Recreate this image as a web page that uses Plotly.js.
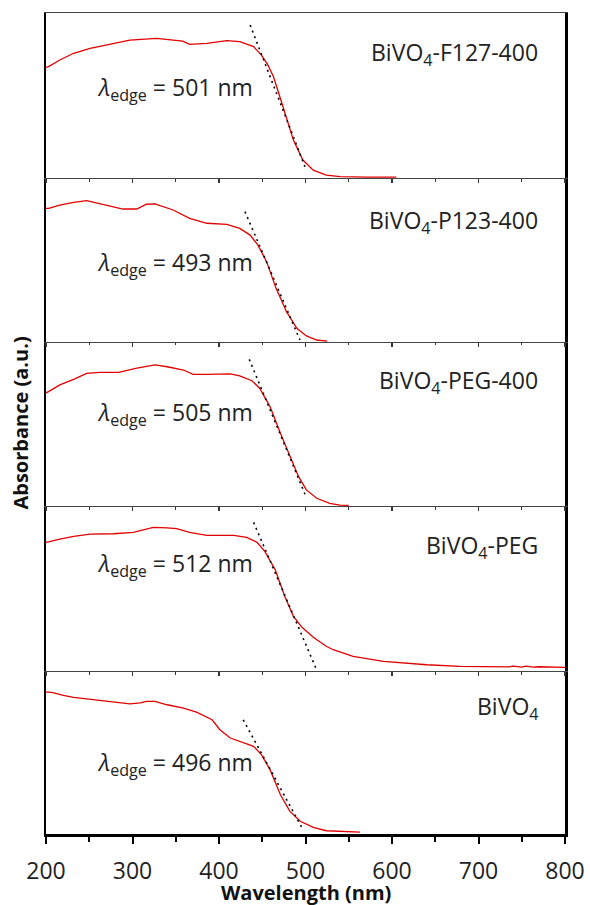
<!DOCTYPE html>
<html><head><meta charset="utf-8">
<script src="https://cdn.plot.ly/plotly-3.0.1.min.js"></script>
<style>html,body{margin:0;padding:0;background:#fff}#chart{width:590px;height:905px}</style>
</head><body><div id="chart"></div>
<script>
// Sample names (top to bottom) and absorption-edge wavelengths
const samples = ["BiVO<sub>4</sub>-F127-400","BiVO<sub>4</sub>-P123-400","BiVO<sub>4</sub>-PEG-400","BiVO<sub>4</sub>-PEG","BiVO<sub>4</sub>"];
const edges = [501, 493, 505, 512, 496];

// Spectra (wavelength nm, normalized absorbance within each panel)
const wl_F127 = [200,203,216,232,251,270,297,328,351,358,366,386,409,424,440,449,456,463,474,486,497,509,524,540,570,605];
const ab_F127 = [0.67,0.675,0.715,0.756,0.786,0.806,0.836,0.846,0.836,0.83,0.81,0.816,0.832,0.826,0.796,0.745,0.69,0.614,0.432,0.23,0.109,0.048,0.018,0.008,0.006,0.006];

const wl_P123 = [200,203,216,232,247,270,289,305,316,326,347,366,386,409,424,436,445,455,466,478,490,501,513,525];
const ab_P123 = [0.815,0.815,0.835,0.852,0.862,0.835,0.811,0.811,0.84,0.842,0.805,0.754,0.724,0.717,0.693,0.652,0.591,0.49,0.327,0.185,0.083,0.037,0.012,0.005];

const wl_PEG400 = [200,203,216,232,247,262,284,305,326,340,359,370,386,413,424,438,447,459,471,482,492,501,513,528,540,550];
const ab_PEG400 = [0.69,0.697,0.738,0.772,0.809,0.815,0.815,0.84,0.86,0.849,0.829,0.803,0.803,0.805,0.793,0.764,0.718,0.606,0.443,0.301,0.179,0.098,0.047,0.016,0.006,0.004];

const wl_PEG = [200,203,216,232,251,278,301,324,340,351,366,386,417,432,444,453,465,476,486,496,509,524,532,555,590,640,679,725,735,740,750,755,763,770,798,800];
const ab_PEG = [0.78,0.782,0.8,0.816,0.83,0.832,0.84,0.871,0.867,0.863,0.84,0.822,0.822,0.81,0.78,0.725,0.614,0.453,0.331,0.265,0.205,0.15,0.129,0.089,0.059,0.038,0.028,0.028,0.025,0.03,0.024,0.03,0.024,0.026,0.022,0.022];

const wl_BiVO4 = [200,203,208,220,232,251,270,297,309,316,326,340,359,374,392,401,413,424,440,449,459,471,482,494,509,524,540,563];
const ab_BiVO4 = [0.87,0.871,0.868,0.851,0.839,0.828,0.814,0.798,0.804,0.814,0.814,0.793,0.773,0.748,0.701,0.64,0.589,0.569,0.538,0.487,0.395,0.241,0.139,0.078,0.041,0.02,0.015,0.012];

// Tangent (dotted) lines: start and end points [wavelength, absorbance]
const tan_x = [[436,499.4],[430,493.6],[435,500.6],[440,512],[428,495.6]];
const tan_y = [[0.927,0.068],[0.795,0.012],[0.894,0.057],[0.901,0.018],[0.701,0.041]];

const tickVals = [200,300,400,500,600,700,800];
const minorVals = [250,350,450,550,650,750];

const spectraX = [wl_F127, wl_P123, wl_PEG400, wl_PEG, wl_BiVO4];
const spectraY = [ab_F127, ab_P123, ab_PEG400, ab_PEG, ab_BiVO4];
// panel index 0 = top -> x5/y5, 4 = bottom -> x/y
const xNames = ['x5','x4','x3','x2','x'];
const yNames = ['y5','y4','y3','y2','y'];
const lamY = [0.545,0.476,0.567,0.644,0.434];
const nameY = [0.752,0.732,0.762,0.752,0.779];

const traces = [];
const annotations = [];
for (let i = 0; i < 5; i++) {
  traces.push({x: spectraX[i], y: spectraY[i], xaxis: xNames[i], yaxis: yNames[i], type:'scatter', mode:'lines',
    line:{color:'rgb(225,0,0)', width:1.3}, hoverinfo:'skip', showlegend:false});
  traces.push({x: tan_x[i], y: tan_y[i], xaxis: xNames[i], yaxis: yNames[i], type:'scatter', mode:'lines',
    line:{color:'#000', width:1.6, dash:'2px,4px'}, hoverinfo:'skip', showlegend:false});
  annotations.push({xref: xNames[i], yref: yNames[i], x: 256.6, y: lamY[i], xanchor:'left', yanchor:'middle',
    text:'<i>λ</i><sub>edge</sub> = ' + edges[i] + ' nm', showarrow:false,
    font:{family:'Open Sans', size:23, color:'#222'}});
  annotations.push({xref: xNames[i], yref: yNames[i], x: 771, y: nameY[i], xanchor:'right', yanchor:'middle',
    text: samples[i], showarrow:false, font:{family:'Open Sans', size:23, color:'#222'}});
}
annotations.push({xref:'paper', yref:'paper', x:-0.05, y:0.5, xanchor:'center', yanchor:'middle',
  textangle:-90, text:'<b>Absorbance (a.u.)</b>', showarrow:false,
  font:{family:'Open Sans', size:20, color:'#111'}});
annotations.push({xref:'paper', yref:'paper', x:0.5, y:-0.0715, xanchor:'center', yanchor:'middle',
  text:'<b>Wavelength (nm)</b>', showarrow:false,
  font:{family:'Open Sans', size:20, color:'#111'}});

// bottom-to-top domains
const domBT = [[0,0.1985],[0.1985,0.3995],[0.3995,0.5993],[0.5993,0.799],[0.799,1]];

const layout = {
  width:590, height:905,
  margin:{l:46, r:25, t:13, b:71},
  paper_bgcolor:'#fff', plot_bgcolor:'#fff',
  showlegend:false,
  annotations: annotations,
  xaxis:{range:[200,800], anchor:'y', tickmode:'array', tickvals:tickVals, ticks:'outside', ticklen:7, tickwidth:2, tickcolor:'#000',
    minor:{tickmode:'array', tickvals:minorVals, ticks:'outside', ticklen:5, tickwidth:2, tickcolor:'#000'},
    showline:true, linecolor:'#000', linewidth:2.5, showgrid:false, zeroline:false,
    ticklabelstandoff:8,
    tickfont:{family:'Open Sans', size:23, color:'#222'}}
};
const ysuffix = ['', '2','3','4','5'];
for (let k = 0; k < 5; k++) {
  layout['yaxis' + ysuffix[k]] = {domain: domBT[k], range:[0,1], showline:true, mirror:true, linecolor:'#000', linewidth:2.5,
    showgrid:false, zeroline:false, showticklabels:false, ticks:''};
  if (k > 0) {
    layout['xaxis' + (k+1)] = {range:[200,800], anchor:'y' + ysuffix[k], tickmode:'array', tickvals:tickVals,
      ticks:'outside', ticklen:4, tickwidth:1.2, tickcolor:'#333', showticklabels:false,
      minor:{tickmode:'array', tickvals:minorVals, ticks:'outside', ticklen:2.5, tickwidth:1.2, tickcolor:'#333'},
      showline:true, linecolor:'#444', linewidth:1, showgrid:false, zeroline:false, mirror: (k === 4)};
  }
}
Plotly.newPlot('chart', traces, layout, {staticPlot:true, displayModeBar:false});
</script></body></html>
